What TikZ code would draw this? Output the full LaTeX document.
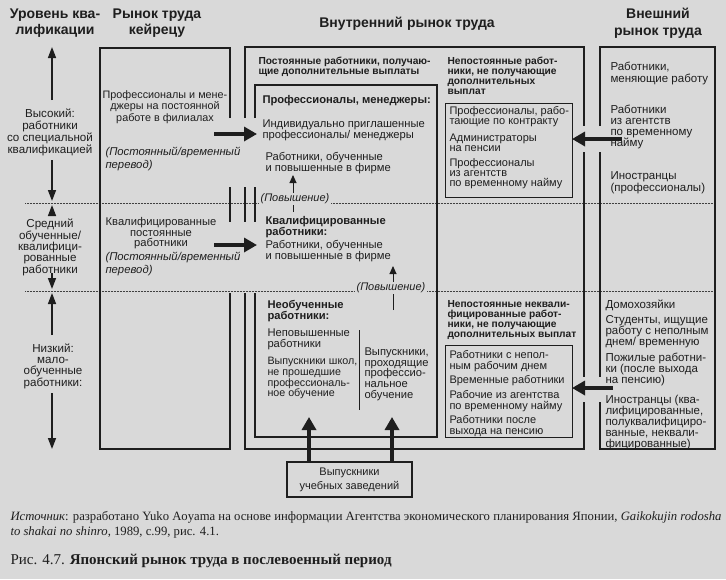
\documentclass[tikz,border=0pt]{standalone}
\usepackage{fontspec}
\setmainfont{Liberation Sans}
\newfontfamily\capfont{Liberation Serif}
\usetikzlibrary{arrows.meta, positioning}
\definecolor{cpaper}{HTML}{D9D9D9}
\definecolor{cink}{HTML}{1E1E1E}
\tikzset{
  every picture/.style={line width=1pt},
  txt/.style={text=cink, font=\fontsize{11.2}{10.8}\selectfont, align=left, inner sep=0pt, anchor=north west},
  ctxt/.style={txt, align=center, anchor=north},
  bold/.style={txt, font=\fontsize{10.2}{10}\selectfont\bfseries},
  subhead/.style={txt, font=\fontsize{11.2}{10.8}\selectfont\bfseries},
  note/.style={txt, font=\fontsize{11.3}{13}\selectfont\itshape},
  colhead/.style={text=cink, font=\fontsize{14}{16.5}\selectfont\bfseries, align=center, inner sep=0pt},
  frame/.style={draw=cink, line width=1.6pt},
  subframe/.style={draw=cink, line width=0.9pt},
  level/.style={draw=cink!85, line width=0.5pt, densely dotted},
  flow/.style={draw=cink, line width=3.3pt, -{Triangle[length=13pt, width=14pt]}},
  rankarrow/.style={draw=cink, line width=1.5pt, -{Triangle[length=11pt, width=8pt]}},
  promo/.style={draw=cink, line width=0.9pt, -{Triangle[length=8pt, width=7pt]}},
  promolbl/.style={txt, anchor=center, fill=cpaper, inner xsep=2pt, inner ysep=1pt, font=\fontsize{11}{11}\selectfont\itshape},
}

\begin{document}
\begin{tikzpicture}[x=1pt, y=-1pt]
  \fill[cpaper] (0,0) rectangle (726,579);
  \useasboundingbox (0,0) rectangle (726,579);

  % column heads
  \node[colhead] (hLevel) at (55,23) {Уровень ква-\\лификации};
  \node[colhead] (hKeir) at (157,23) {Рынок труда\\кейрецу};
  \node[colhead] (hInt) at (407,24) {Внутренний рынок труда};
  \node[colhead] (hExt) at (658,23) {Внешний\\рынок труда};

  % level borders
  \draw[level] (25,203) -- (713,203);
  \draw[level] (25,291) -- (713,291);

  % keiretsu market
  \draw[frame] (230,118) -- (230,48) -- (100,48) -- (100,449) -- (230,449) -- (230,293);
  \draw[frame] (230,187) -- (230,222);
  % internal market
  \draw[frame] (245,118) -- (245,47) -- (584,47) -- (584,126);
  \draw[frame] (584,152) -- (584,377);
  \draw[frame] (584,402) -- (584,449) -- (245,449) -- (245,293);
  \draw[frame] (245,187) -- (245,222);
  \draw[frame] (255,118) -- (255,85) -- (437,85) -- (437,437) -- (255,437) -- (255,293);
  \draw[frame] (255,187) -- (255,222);
  \draw[subframe] (445,103) rectangle (572,197);
  \draw[subframe] (445,345) rectangle (572,437);
  \draw[subframe] (359,330) -- (359,410);
  % external market
  \draw[frame] (600,126) -- (600,47) -- (715,47) -- (715,449) -- (600,449) -- (600,402);
  \draw[frame] (600,152) -- (600,377);

  % qualification levels
  \node[ctxt, font=\fontsize{11.6}{12}\selectfont] (lvHigh) at (50,108) {Высокий:\\работники\\со специальной\\квалификацией};
  \node[ctxt, font=\fontsize{11.6}{10.8}\selectfont] (lvMid) at (50,218) {Средний\\обученные/\\квалифици-\\рованные\\работники};
  \node[ctxt, font=\fontsize{11.6}{11.3}\selectfont] (lvLow) at (53,343) {Низкий:\\мало-\\обученные\\работники:};
  \coordinate (lvTop) at (52,47);
  \coordinate (lvB1) at (52,201);
  \coordinate (lvB2) at (52,205);
  \coordinate (lvB3) at (52,289);
  \coordinate (lvB4) at (52,293);
  \coordinate (lvBot) at (52,449);
  \draw[rankarrow] (52,100) -- (lvTop);
  \draw[rankarrow] (52,160) -- (lvB1);
  \draw[rankarrow] (52,214) -- (lvB2);
  \draw[rankarrow] (52,273) -- (lvB3);
  \draw[rankarrow] (52,335) -- (lvB4);
  \draw[rankarrow] (52,393) -- (lvBot);

  % keiretsu texts
  \node[ctxt, font=\fontsize{10.8}{11.5}\selectfont] (kProf) at (165,90) {Профессионалы и мене-\\джеры на постоянной\\работе в филиалах};
  \node[note] (kNote1) at (105,147) {(Постоянный/временный\\перевод)};
  \node[ctxt, font=\fontsize{11.2}{10.5}\selectfont] (kQual) at (161,217) {Квалифицированные\\постоянные\\работники};
  \node[note] (kNote2) at (105,252) {(Постоянный/временный\\перевод)};

  % internal market texts
  \node[bold] (iPermHd) at (258,57) {Постоянные работники, получаю-\\щие дополнительные выплаты};
  \node[subhead] (iProfHd) at (262,95) {Профессионалы, менеджеры:};
  \node[txt] (iProfA) at (262,119) {Индивидуально приглашенные\\профессионалы/ менеджеры};
  \node[txt] (iProfB) at (265,152) {Работники, обученные\\и повышенные в фирме};
  \node[subhead] (iQualHd) at (265,216) {Квалифицированные\\работники:};
  \node[txt] (iQualA) at (265,240) {Работники, обученные\\и повышенные в фирме};
  \node[subhead] (iLowHd) at (267,300) {Необученные\\работники:};
  \node[txt] (iLowA) at (267,328) {Неповышенные\\работники};
  \node[txt, font=\fontsize{10.7}{10.6}\selectfont] (iLowB) at (267,357) {Выпускники школ,\\не прошедшие\\профессиональ-\\ное обучение};
  \node[txt] (iLowC) at (364,347) {Выпускники,\\проходящие\\профессио-\\нальное\\обучение};
  \node[bold] (iTempHd) at (447,57) {Непостоянные работ-\\ники, не получающие\\дополнительных\\выплат};
  \node[txt, font=\fontsize{11}{10.2}\selectfont] (iTempA) at (449,106) {Профессионалы, рабо-\\тающие по контракту};
  \node[txt, font=\fontsize{11}{10.2}\selectfont] (iTempB) at (449,133) {Администраторы\\на пенсии};
  \node[txt, font=\fontsize{11}{10.2}\selectfont] (iTempC) at (449,158) {Профессионалы\\из агентств\\по временному найму};
  \node[bold] (iUnqHd) at (447,300) {Непостоянные неквали-\\фицированные работ-\\ники, не получающие\\дополнительных выплат};
  \node[txt, font=\fontsize{11}{11}\selectfont] (iUnqA) at (449,350) {Работники с непол-\\ным рабочим днем};
  \node[txt, font=\fontsize{11}{11}\selectfont] (iUnqB) at (449,375) {Временные работники};
  \node[txt, font=\fontsize{11}{10.5}\selectfont] (iUnqC) at (449,390) {Рабочие из агентства\\по временному найму};
  \node[txt, font=\fontsize{11}{10.5}\selectfont] (iUnqD) at (449,415) {Работники после\\выхода на пенсию};

  % external market texts
  \node[txt, font=\fontsize{11.5}{12}\selectfont] (eSwitch) at (610,62) {Работники,\\меняющие работу};
  \node[txt, font=\fontsize{11.5}{11}\selectfont] (eAgency) at (610,105) {Работники\\из агентств\\по временному\\найму};
  \node[txt, font=\fontsize{11.5}{12}\selectfont] (eForPro) at (610,171) {Иностранцы\\(профессионалы)};
  \node[txt, font=\fontsize{11.5}{11}\selectfont] (eHouse) at (605,299) {Домохозяйки};
  \node[txt, font=\fontsize{11.5}{11}\selectfont] (eStud) at (605,315) {Студенты, ищущие\\работу с неполным\\днем/ временную};
  \node[txt, font=\fontsize{11.5}{11}\selectfont] (eOld) at (605,353) {Пожилые работни-\\ки (после выхода\\на пенсию)};
  \node[txt, font=\fontsize{11.5}{11}\selectfont] (eForAll) at (605,395) {Иностранцы (ква-\\лифицированные,\\полуквалифициро-\\ванные, неквали-\\фицированные)};

  % promotion
  \coordinate (pr1a) at (293,212);
  \coordinate (pr1b) at (293,175);
  \coordinate (pr2a) at (393,310);
  \coordinate (pr2b) at (393,266);
  \draw[promo] (pr1a) -- (pr1b);
  \draw[promo] (pr2a) -- (pr2b);
  \node[promolbl] (promo1) at (295,199) {(Повышение)};
  \node[promolbl] (promo2) at (391,288) {(Повышение)};

  % transfers and hiring
  \coordinate (kOut1) at (214,134);
  \coordinate (iIn1) at (257,134);
  \coordinate (kOut2) at (214,245);
  \coordinate (iIn2) at (257,245);
  \coordinate (eOut1) at (622,139);
  \coordinate (iIn3) at (572,139);
  \coordinate (eOut2) at (613,388);
  \coordinate (iIn4) at (572,388);
  \draw[flow] (kOut1) -- (iIn1);
  \draw[flow] (kOut2) -- (iIn2);
  \draw[flow] (eOut1) -- (iIn3);
  \draw[flow] (eOut2) -- (iIn4);

  \node[ctxt, anchor=center, draw=cink, line width=1.2pt, minimum width=125pt, minimum height=35pt, font=\fontsize{11}{14}\selectfont] (grad) at (349.5,479.5) {Выпускники\\учебных заведений};
  \coordinate (gL) at (309,417);
  \coordinate (gR) at (392,417);
  \draw[flow] (grad.north -| gL) -- (gL);
  \draw[flow] (grad.north -| gR) -- (gR);

  % caption
  \node[txt, font=\capfont\fontsize{12.7}{15}\selectfont] (capSrc) at (10,511) {\textit{Источник}: разработано Yuko Aoyama на основе информации Агентства экономического планирования Японии, \textit{Gaikokujin rodosha}\\\textit{to shakai no shinro}, 1989, с.99, рис. 4.1.};
  \node[txt, font=\capfont\fontsize{15}{17}\selectfont] (capFig) at (10,554) {Рис. 4.7. \textbf{Японский рынок труда в послевоенный период}};
\end{tikzpicture}
\end{document}
